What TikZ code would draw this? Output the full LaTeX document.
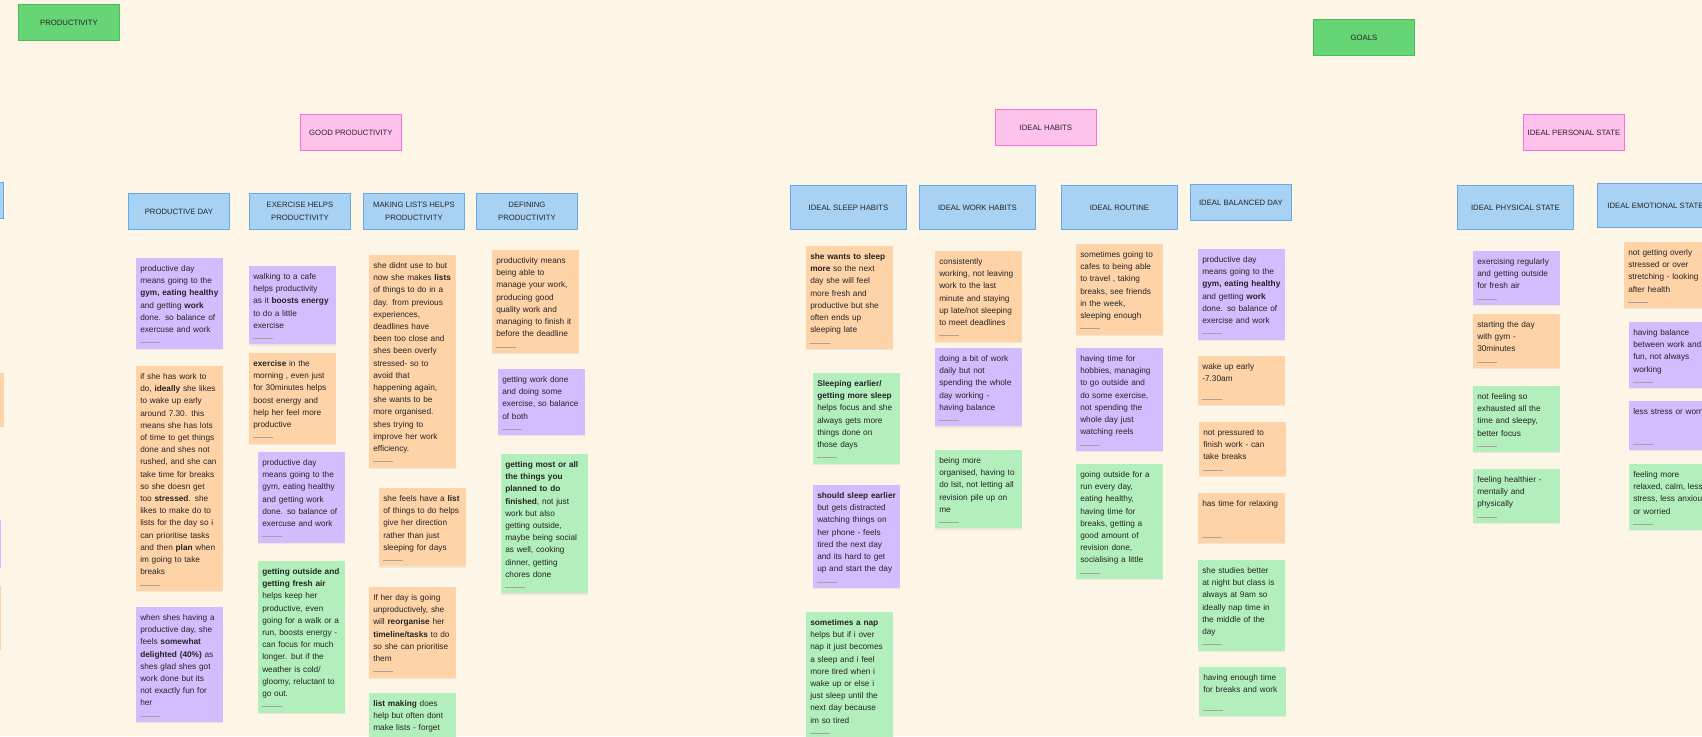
\documentclass[tikz,border=0pt]{standalone}
\usepackage{fontspec}
\setmainfont{Liberation Sans}
\usetikzlibrary{shadows}
\definecolor{boardBg}{HTML}{FDF6E6}
\definecolor{topicGreen}{HTML}{66D575}
\definecolor{topicLine}{HTML}{4DB85C}
\definecolor{themePink}{HTML}{FFC2EC}
\definecolor{themeLine}{HTML}{FF6FCF}
\definecolor{groupBlue}{HTML}{A8D2F4}
\definecolor{groupLine}{HTML}{69AAE4}
\definecolor{noteViolet}{HTML}{D3BDFF}
\definecolor{noteOrange}{HTML}{FFD3A8}
\definecolor{noteGreen}{HTML}{B3EFBD}
\definecolor{inkDark}{HTML}{242424}
\definecolor{footGray}{HTML}{A8A29A}
\newcommand{\kw}[1]{\textbf{#1}}
\newcommand{\notefont}{\fontsize{6.2}{9.15}\selectfont}
\newcommand{\headfont}{\fontsize{5.8}{9.2}\selectfont}

\begin{document}
\begin{tikzpicture}[
  x=0.75pt, y=-0.75pt,
  box/.style={rectangle, anchor=north west, line width=0.6pt, align=center,
              font=\headfont, text=inkDark, inner sep=2pt,
              minimum width=75.75pt, minimum height=27pt},
  topic/.style={box, fill=topicGreen, draw=topicLine},
  theme/.style={box, fill=themePink, draw=themeLine},
  group/.style={box, fill=groupBlue, draw=groupLine},
  groupwide/.style={group, minimum width=87pt, minimum height=33pt},
  sticky/.style={rectangle, anchor=north west, align=left, font=\notefont,
                 text=inkDark, text width=59pt, inner xsep=3pt, inner ysep=3.5pt,
                 drop shadow={shadow xshift=0pt, shadow yshift=-0.8pt, opacity=0.12},
                 execute at begin node={\noindent\strut},
                 execute at end node={\strut\endgraf\vspace{5.9pt}},
                 path picture={\draw[footGray, line width=0.4pt]
                   ([xshift=3pt, yshift=4.5pt]path picture bounding box.south west) -- ++(15pt,0pt);}},
  vnote/.style={sticky, fill=noteViolet},
  onote/.style={sticky, fill=noteOrange},
  gnote/.style={sticky, fill=noteGreen},
  padbot/.style={execute at end node={\vspace{#1}}},
  stub/.style={rectangle, anchor=north east, minimum width=65pt},
]
\useasboundingbox (0,0) rectangle (1702,736);
\clip (0,0) rectangle (1702,736);
\fill[boardBg] (0,0) rectangle (1702,736);

% ===== topics and themes ===================================================
\node[topic] (prod)  at (18,4)     {PRODUCTIVITY};
\node[topic] (goals) at (1313,19)  {GOALS};
\node[theme] (goodprod)  at (300,114)  {GOOD PRODUCTIVITY};
\node[theme] (idhabits)  at (995,109)  {IDEAL HABITS};
\node[theme] (idperson)  at (1523,114) {IDEAL PERSONAL STATE};

% ===== group headers =======================================================
\node[group, anchor=north east] (prevgrp) at (4,182) {};
\node[group] (proddayh) at (128,193)  {PRODUCTIVE DAY};
\node[group] (exerh)    at (249,193)  {EXERCISE HELPS\\PRODUCTIVITY};
\node[group] (listsh)   at (363,193)  {MAKING LISTS HELPS\\PRODUCTIVITY};
\node[group] (defh)     at (476,193)  {DEFINING\\PRODUCTIVITY};
\node[groupwide] (sleeph)   at (790,185)  {IDEAL SLEEP HABITS};
\node[groupwide] (workh)    at (919,185)  {IDEAL WORK HABITS};
\node[groupwide] (routineh) at (1061,185) {IDEAL ROUTINE};
\node[group]     (balh)     at (1190,184) {IDEAL BALANCED DAY};
\node[groupwide] (physh)    at (1457,185) {IDEAL PHYSICAL STATE};
\node[groupwide] (emoh)     at (1597,183) {IDEAL EMOTIONAL STATE};

% ===== notes cut off at the left edge ======================================
\node[stub, fill=noteOrange, minimum height=40.5pt] (prev1) at (4,373) {};
\node[stub, fill=noteViolet, minimum height=36pt]   (prev2) at (1,520) {};
\node[stub, fill=noteOrange, minimum height=48pt]   (prev3) at (1,586) {};

% ===== productive day ======================================================
\node[vnote] (pd1) at (136,258)
  {productive day\\means going to the\\\kw{gym, eating healthy}\\and getting \kw{work}\\done. so balance of\\exercuse and work};
\node[onote] (pd2) at (136,366)
  {if she has work to\\do, \kw{ideally} she likes\\to wake up early\\around 7.30. this\\means she has lots\\of time to get things\\done and shes not\\rushed, and she can\\take time for breaks\\so she doesn get\\too \kw{stressed}. she\\likes to make do to\\lists for the day so i\\can prioritise tasks\\and then \kw{plan} when\\im going to take\\breaks};
\node[vnote] (pd3) at (136,607)
  {when shes having a\\productive day, she\\feels \kw{somewhat}\\\kw{delighted (40\%)} as\\shes glad shes got\\work done but its\\not exactly fun for\\her};

% ===== exercise helps productivity =========================================
\node[vnote] (ex1) at (249,266)
  {walking to a cafe\\helps productivity\\as it \kw{boosts energy}\\to do a little\\exercise};
\node[onote] (ex2) at (249,353)
  {\kw{exercise} in the\\morning , even just\\for 30minutes helps\\boost energy and\\help her feel more\\productive};
\node[vnote] (ex3) at (258,452)
  {productive day\\means going to the\\gym, eating healthy\\and getting work\\done. so balance of\\exercuse and work};
\node[gnote] (ex4) at (258,561)
  {\kw{getting outside and}\\\kw{getting fresh air}\\helps keep her\\productive, even\\going for a walk or a\\run, boosts energy -\\can focus for much\\longer. but if the\\weather is cold/\\gloomy, reluctant to\\go out.};

% ===== making lists helps productivity =====================================
\node[onote] (ls1) at (369,255)
  {she didnt use to but\\now she makes \kw{lists}\\of things to do in a\\day. from previous\\experiences,\\deadlines have\\been too close and\\shes been overly\\stressed- so to\\avoid that\\happening again,\\she wants to be\\more organised.\\shes trying to\\improve her work\\efficiency.};
\node[onote] (ls2) at (379,488)
  {she feels have a \kw{list}\\of things to do helps\\give her direction\\rather than just\\sleeping for days};
\node[onote] (ls3) at (369,587)
  {If her day is going\\unproductively, she\\will \kw{reorganise} her\\\kw{timeline/tasks} to do\\so she can prioritise\\them};
\node[gnote] (ls4) at (369,693)
  {\kw{list making} does\\help but often dont\\make lists - forget};

% ===== defining productivity ===============================================
\node[onote] (df1) at (492,250)
  {productivity means\\being able to\\manage your work,\\producing good\\quality work and\\managing to finish it\\before the deadline};
\node[vnote] (df2) at (498,369)
  {getting work done\\and doing some\\exercise, so balance\\of both};
\node[gnote] (df3) at (501,454)
  {\kw{getting most or all}\\\kw{the things you}\\\kw{planned to do}\\\kw{finished}, not just\\work but also\\getting outside,\\maybe being social\\as well, cooking\\dinner, getting\\chores done};

% ===== ideal sleep habits ==================================================
\node[onote] (sl1) at (806,246)
  {\kw{she wants to sleep}\\\kw{more} so the next\\day she will feel\\more fresh and\\productive but she\\often ends up\\sleeping late};
\node[gnote] (sl2) at (813,373)
  {\kw{Sleeping earlier/}\\\kw{getting more sleep}\\helps focus and she\\always gets more\\things done on\\those days};
\node[vnote] (sl3) at (813,485)
  {\kw{should sleep earlier}\\but gets distracted\\watching things on\\her phone - feels\\tired the next day\\and its hard to get\\up and start the day};
\node[gnote] (sl4) at (806,612)
  {\kw{sometimes a nap}\\helps but if i over\\nap it just becomes\\a sleep and i feel\\more tired when i\\wake up or else i\\just sleep until the\\next day because\\im so tired};

% ===== ideal work habits ===================================================
\node[onote] (wk1) at (935,251)
  {consistently\\working, not leaving\\work to the last\\minute and staying\\up late/not sleeping\\to meet deadlines};
\node[vnote] (wk2) at (935,348)
  {doing a bit of work\\daily but not\\spending the whole\\day working -\\having balance};
\node[gnote] (wk3) at (935,450)
  {being more\\organised, having to\\do lsit, not letting all\\revision pile up on\\me};

% ===== ideal routine =======================================================
\node[onote] (rt1) at (1076,244)
  {sometimes going to\\cafes to being able\\to travel , taking\\breaks, see friends\\in the week,\\sleeping enough};
\node[vnote] (rt2) at (1076,348)
  {having time for\\hobbies, managing\\to go outside and\\do some exercise,\\not spending the\\whole day just\\watching reels};
\node[gnote] (rt3) at (1076,464)
  {going outside for a\\run every day,\\eating healthy,\\having time for\\breaks, getting a\\good amount of\\revision done,\\socialising a little};

% ===== ideal balanced day ==================================================
\node[vnote] (bd1) at (1198,249)
  {productive day\\means going to the\\\kw{gym, eating healthy}\\and getting \kw{work}\\done. so balance of\\exercise and work};
\node[onote, padbot=5.5pt] (bd2) at (1198,356)
  {wake up early\\-7.30am};
\node[onote] (bd3) at (1199,422)
  {not pressured to\\finish work - can\\take breaks};
\node[onote, padbot=15.5pt] (bd4) at (1198,493)
  {has time for relaxing};
\node[gnote] (bd5) at (1198,560)
  {she studies better\\at night but class is\\always at 9am so\\ideally nap time in\\the middle of the\\day};
\node[gnote, padbot=5.5pt] (bd6) at (1199,667)
  {having enough time\\for breaks and work};

% ===== ideal physical state ================================================
\node[vnote] (ph1) at (1473,251)
  {exercising regularly\\and getting outside\\for fresh air};
\node[onote] (ph2) at (1473,314)
  {starting the day\\with gym -\\30minutes};
\node[gnote] (ph3) at (1473,386)
  {not feeling so\\exhausted all the\\time and sleepy,\\better focus};
\node[gnote] (ph4) at (1473,469)
  {feeling healthier -\\mentally and\\physically};

% ===== ideal emotional state ===============================================
\node[onote] (em1) at (1624,242)
  {not getting overly\\stressed or over\\stretching - looking\\after health};
\node[vnote] (em2) at (1629,322)
  {having balance\\between work and\\fun, not always\\working};
\node[vnote, padbot=14.7pt] (em3) at (1629,401)
  {less stress or worry};
\node[gnote] (em4) at (1629,464)
  {feeling more\\relaxed, calm, less\\stress, less anxious\\or worried};

\end{tikzpicture}
\end{document}
